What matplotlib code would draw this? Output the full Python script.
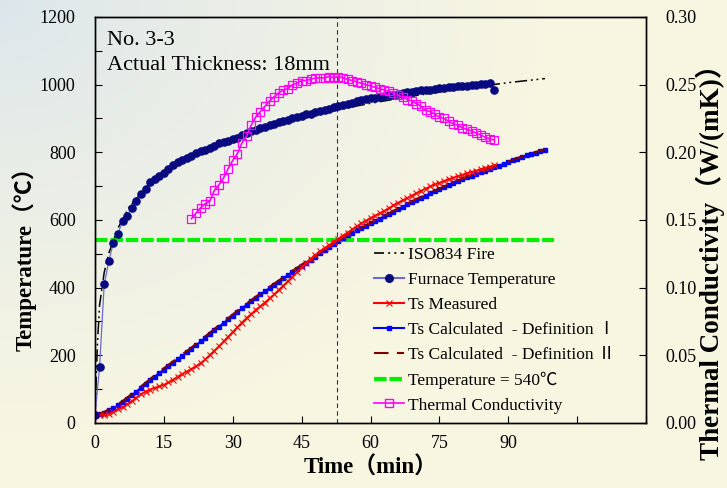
import numpy as np
import matplotlib
matplotlib.use('Agg')
import matplotlib.pyplot as plt
from matplotlib.lines import Line2D

# ---- data ----
iso_time = [0, 0.5, 1, 2, 3, 5, 7.5, 10, 15, 20, 25, 30, 40, 50, 60, 70, 80, 90, 98]
iso_temp = [20, 227, 349, 445, 502, 576, 640, 678, 739, 781, 815, 842, 885, 918, 945, 968, 988, 1006, 1018]

furnace_time = list(range(0, 88))
furnace_temp = [24, 166, 410, 478, 533, 560, 597, 612, 636, 657,
                676, 692, 711, 720, 731, 739, 752, 763, 770, 776,
                782, 790, 797, 803, 808, 814, 818, 828, 830, 834,
                838, 843, 850, 856, 862, 866, 871, 876, 880, 885,
                890, 893, 896, 901, 905, 908, 912, 914, 918, 921,
                925, 929, 933, 936, 940, 944, 947, 951, 955, 957,
                960, 962, 964, 966, 968, 970, 972, 974, 977, 979,
                981, 983, 984, 985, 987, 989, 990, 992, 993, 995,
                996, 997, 999, 1000, 1002, 1003, 1004, 984]

ts_meas_time = list(range(0, 88))
ts_meas = [25, 24, 24, 27, 33, 40, 47, 55, 64, 75,
           85, 93, 99, 104, 108, 113, 120, 128, 137, 145,
           152, 160, 168, 177, 188, 201, 214, 227, 241, 255,
           269, 283, 297, 310, 322, 334, 345, 356, 368, 380,
           393, 406, 419, 432, 446, 460, 474, 486, 497, 508,
           517, 526, 536, 545, 554, 563, 572, 581, 590, 598,
           606, 613, 620, 627, 635, 643, 651, 658, 665, 672,
           679, 686, 693, 699, 705, 710, 715, 720, 725, 729,
           733, 738, 742, 746, 750, 754, 758, 762]

calc_time = list(range(0, 99))
calc_def1 = [24, 26, 31, 37, 44, 52, 61, 71, 82, 93,
             104, 115, 126, 137, 148, 158, 168, 178, 189, 199,
             209, 219, 230, 241, 252, 263, 274, 285, 296, 306,
             317, 328, 339, 350, 360, 370, 380, 389, 399, 409,
             418, 428, 437, 447, 456, 465, 474, 483, 492, 501,
             510, 520, 529, 538, 546, 555, 562, 569, 576, 583,
             590, 597, 604, 611, 618, 625, 632, 639, 646, 653,
             660, 666, 672, 679, 685, 691, 697, 703, 709, 715,
             720, 726, 731, 736, 741, 746, 751, 756, 761, 766,
             771, 776, 781, 786, 791, 795, 799, 803, 807]
calc_def2 = [24, 27, 33, 40, 48, 56, 65, 75, 86, 97,
             108, 119, 130, 141, 152, 162, 172, 182, 193, 203,
             213, 223, 234, 245, 256, 267, 278, 289, 299, 310,
             321, 332, 342, 353, 363, 373, 383, 392, 402, 412,
             421, 431, 440, 450, 459, 468, 477, 486, 495, 504,
             513, 522, 531, 540, 548, 557, 564, 571, 578, 585,
             592, 599, 606, 613, 620, 627, 634, 641, 648, 655,
             662, 668, 674, 681, 687, 693, 699, 705, 711, 717,
             722, 728, 733, 738, 743, 748, 753, 758, 763, 768,
             773, 778, 783, 788, 793, 797, 801, 805, 809]

k_time = list(range(21, 88))
k_val = [0.151, 0.155, 0.159, 0.162, 0.164, 0.172, 0.176, 0.181, 0.188, 0.194,
         0.199, 0.207, 0.212, 0.220, 0.226, 0.230, 0.234, 0.238, 0.241, 0.244,
         0.246, 0.247, 0.250, 0.251, 0.253, 0.253, 0.254, 0.255, 0.255, 0.255,
         0.256, 0.255, 0.256, 0.255, 0.254, 0.253, 0.252, 0.251, 0.250, 0.249,
         0.248, 0.247, 0.246, 0.245, 0.244, 0.242, 0.241, 0.239, 0.238, 0.236,
         0.234, 0.231, 0.230, 0.228, 0.226, 0.225, 0.223, 0.221, 0.220, 0.218,
         0.217, 0.216, 0.214, 0.213, 0.211, 0.210, 0.209]

limit_temp = 540
limit_span = [0, 100]
crit_time = 52.8

x_ticks = [0, 15, 30, 45, 60, 75, 90, 105, 120]
x_labels = ['0', '15', '30', '45', '60', '75', '90', '', '']

SERIF = ['Liberation Serif', 'Noto Sans CJK SC', 'DejaVu Sans']
plt.rcParams['font.family'] = SERIF

fig = plt.figure(figsize=(7.27, 4.88), dpi=100)

# soft background gradient (blue-grey top-left -> cream)
bg = fig.add_axes([0, 0, 1, 1], zorder=-10)
gy, gx = np.mgrid[0:1:200j, 0:1:300j]
t = np.clip(np.sqrt((gx / 0.75) ** 2 + (gy / 0.9) ** 2), 0, 1) ** 0.8
c0 = np.array([0.86, 0.90, 0.925])
c1 = np.array([0.972, 0.965, 0.885])
img = c0[None, None, :] * (1 - t[..., None]) + c1[None, None, :] * t[..., None]
bg.imshow(img, aspect='auto', extent=[0, 1, 0, 1], origin='upper')
bg.axis('off')

ax = fig.add_axes([0.1307, 0.1332, 0.7579, 0.832])
ax.set_facecolor('none')
ax2 = ax.twinx()

ISO_DASH = (8, 2.5, 1.2, 2.5, 1.2, 2.5)

ax.axvline(crit_time, color='#333333', lw=0.8, dashes=(4, 3), zorder=1)
h_green, = ax.plot(limit_span, [limit_temp, limit_temp], color='#00ee00', lw=3,
                   dashes=(3, 0.7), zorder=2, label='Temperature = 540\u2103')
h_c1, = ax.plot(calc_time, calc_def1, color='#0000ff', lw=1.3, marker='s', ms=2.2,
                zorder=3, label='Ts Calculated  - Definition \u2160')
h_c2, = ax.plot(calc_time, calc_def2, color='#7a0000', lw=1.5, dashes=(8, 5),
                zorder=4, label='Ts Calculated  - Definition \u2161')
h_meas, = ax.plot(ts_meas_time, ts_meas, color='#ff0000', lw=1.3, marker='x', ms=4,
                  mew=0.8, zorder=5, label='Ts Measured')
h_iso, = ax.plot(iso_time, iso_temp, color='black', lw=1.1, dashes=ISO_DASH,
                 zorder=6, label='ISO834 Fire')
h_furn, = ax.plot(furnace_time, furnace_temp, color='#6a6ad0', lw=0.9, marker='o', ms=5.2,
                  mfc='#0a0a80', mec='#0a0a80', zorder=7, label='Furnace Temperature')
h_k, = ax2.plot(k_time, k_val, color='#ff00ff', lw=1.2, marker='s', ms=5.5, mfc='none',
                mec='#ff00ff', mew=0.9, label='Thermal Conductivity')

ax.set_xlim(0, 120)
ax.set_ylim(0, 1200)
ax2.set_ylim(0, 0.30)
ax.set_xticks(x_ticks)
ax.set_xticklabels(x_labels)
ax.set_yticks(range(0, 1201, 100))
ax.set_yticklabels([str(v) if v % 200 == 0 else '' for v in range(0, 1201, 100)])
ax2.set_yticks(np.arange(0, 0.301, 0.05))
ax2.set_yticklabels(['%.2f' % v for v in np.arange(0, 0.301, 0.05)])

ax.tick_params(axis='both', direction='in', length=5, width=0.8, labelsize=13, colors='black')
ax.tick_params(axis='x', pad=9)
ax.tick_params(axis='y', pad=14)
ax2.tick_params(axis='y', direction='in', length=5, width=0.8, labelsize=13, pad=14)
for a in (ax, ax2):
    for s in a.spines.values():
        s.set_linewidth(1.0)
        s.set_color('black')

ax.set_xlabel('Time\uff08min\uff09', fontsize=16.5, fontweight='bold', labelpad=3)
ax.set_ylabel('Temperature\uff08\u2103\uff09', fontsize=16.5, fontweight='bold', va='center')
ax.yaxis.set_label_coords(-0.128, 0.419)
ax2.set_ylabel('Thermal Conductivity\uff08W/(mK)\uff09', fontsize=19.5, fontweight='bold',
               va='center')
ax2.yaxis.set_label_coords(1.117, 0.413)

ax.text(0.022, 0.965, 'No. 3-3', transform=ax.transAxes, fontsize=16, va='top', ha='left')
ax.text(0.022, 0.905, 'Actual Thickness: 18mm', transform=ax.transAxes, fontsize=16,
        va='top', ha='left')

handles = [h_iso, h_furn, h_meas, h_c1, h_c2, h_green, h_k]
legend_handles = [
    Line2D([], [], color='black', lw=1.2, dashes=(6, 2.5, 1.2, 2.5, 1.2, 2.5)),
    Line2D([], [], color='#6a6ad0', lw=1.5, marker='o', ms=5.5, mfc='#0a0a80', mec='#0a0a80'),
    Line2D([], [], color='#ff0000', lw=1.5, marker='x', ms=5, mew=0.8),
    Line2D([], [], color='#0000ff', lw=1.5, marker='s', ms=2.5),
    Line2D([], [], color='#7a0000', lw=1.5, dashes=(7, 4)),
    Line2D([], [], color='#00ee00', lw=3, dashes=(3, 0.7)),
    Line2D([], [], color='#ff00ff', lw=1.2, marker='s', ms=5.5, mfc='none', mec='#ff00ff'),
]
ax.legend(legend_handles, [h.get_label() for h in handles], loc='upper left',
          bbox_to_anchor=(0.494, 0.450), frameon=False, fontsize=12.5,
          handlelength=1.7, handletextpad=0.25, labelspacing=0.5, borderaxespad=0)

fig.savefig('out.png', dpi=100, facecolor=fig.get_facecolor())
